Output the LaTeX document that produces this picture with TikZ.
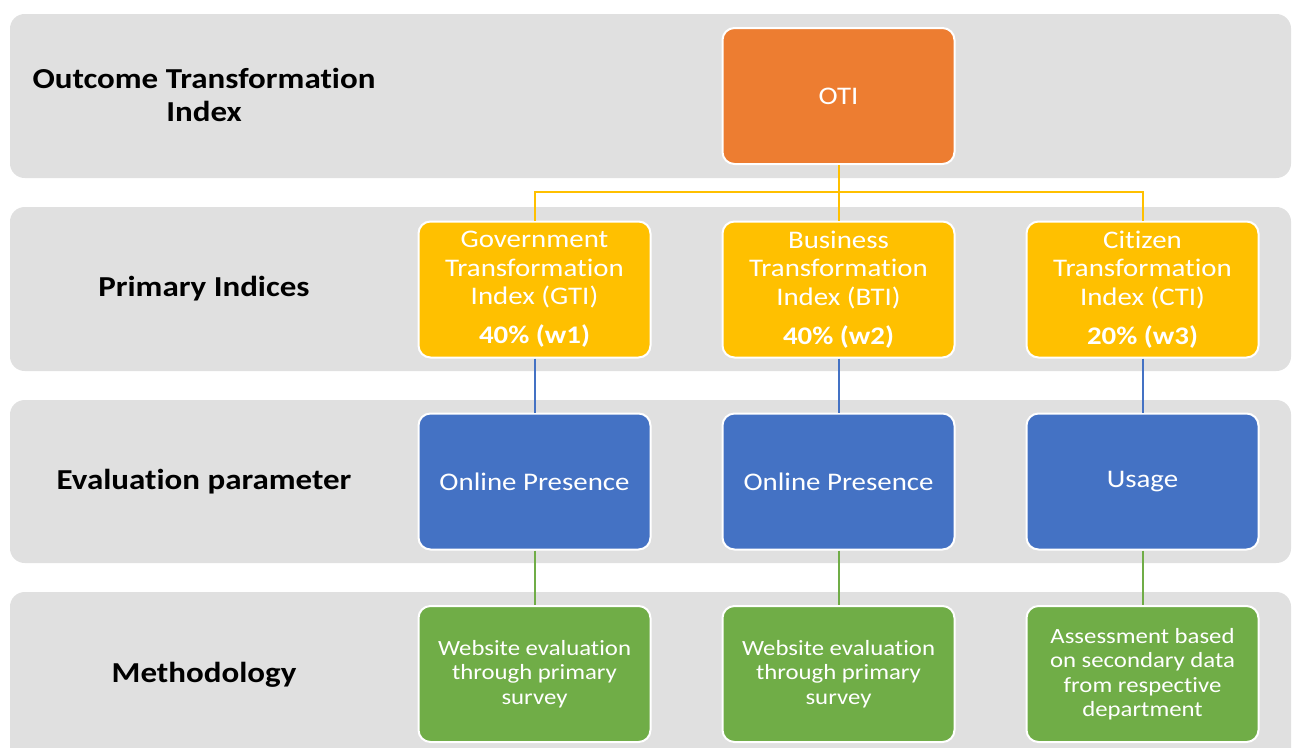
\documentclass[tikz,border=0pt]{standalone}
\usepackage{fontspec}
\setmainfont{Carlito}[FakeStretch=1.14,RawFeature={-liga;-clig;-dlig;-calt;-ccmp}]

\definecolor{bandgray}{RGB}{224,224,224}
\definecolor{otiorange}{RGB}{237,125,49}
\definecolor{primgold}{RGB}{255,192,0}
\definecolor{evalblue}{RGB}{68,114,196}
\definecolor{methgreen}{RGB}{112,173,71}

\tikzset{every picture/.style={line width=0.75pt}}
\tikzset{
  band/.style={fill=bandgray,draw=none,rounded corners=11pt},
  rowlabel/.style={align=center,inner sep=0.75pt,font=\fontsize{21.7}{24.75}\selectfont\bfseries},
  tilebox/.style={draw=white,line width=1.5pt,rounded corners=9pt,text=white,align=center,
    inner sep=0.75pt,minimum width=174pt,minimum height=102pt,font=\fontsize{19}{21.4}\selectfont},
  methbox/.style={tilebox,fill=methgreen,font=\fontsize{16.3}{18.4}\selectfont},
  goldlink/.style={draw=primgold,line width=1.5pt},
  bluelink/.style={draw=evalblue,line width=1.5pt},
  greenlink/.style={draw=methgreen,line width=1.5pt}
}

\begin{document}
\begin{tikzpicture}[x=0.75pt,y=0.75pt,yscale=-1,xscale=1]
\useasboundingbox (0,0) rectangle (1294,747);

%Rows
\path [band] (10,14) rectangle (1291,178);
\path [band] (10,207) rectangle (1291,371);
\path [band] (10,400) rectangle (1291,563);
\path [band] (10,592) rectangle (1291,770);

% Text Node
\node [rowlabel] (lblOTI) at (204,95) {Outcome Transformation\\Index};
% Text Node
\node [rowlabel] (lblPrim) at (204,289) {Primary Indices};
% Text Node
\node [rowlabel] (lblEval) at (204,482) {Evaluation parameter};
% Text Node
\node [rowlabel] (lblMeth) at (204,675) {Methodology};

%Boxes
\node [tilebox,fill=otiorange] (oti) at (838.5,96) {OTI};

\node [tilebox,fill=primgold] (gti) at (534.5,289.5) {Government\\Transformation\\Index (GTI)\\[8pt]\textbf{40\% (w1)}};
\node [tilebox,fill=primgold] (bti) at (838.5,289.5) {Business\\Transformation\\Index (BTI)\\[8pt]\textbf{40\% (w2)}};
\node [tilebox,fill=primgold] (cti) at (1142.5,289.5) {Citizen\\Transformation\\Index (CTI)\\[8pt]\textbf{20\% (w3)}};

\node [tilebox,fill=evalblue] (gonline) at (534.5,481.5) {Online Presence};
\node [tilebox,fill=evalblue] (bonline) at (838.5,481.5) {Online Presence};
\node [tilebox,fill=evalblue] (cusage) at (1142.5,481.5) {\raisebox{-1pt}{Usage}};

\node [methbox] (gsurvey) at (534.5,674) {Website evaluation\\through primary\\survey};
\node [methbox] (bsurvey) at (838.5,674) {Website evaluation\\through primary\\survey};
\node [methbox] (csecond) at (1142.5,674) {Assessment based\\on secondary data\\from respective\\department};

%Connectors
\coordinate (bus) at (838.5,192);
\draw [goldlink] (oti.south) -- (bus);
\draw [goldlink] (bus) -- (bti.north);
\draw [goldlink] (bus) -| (gti.north);
\draw [goldlink] (bus) -| (cti.north);
\draw [bluelink] (gti.south) -- (gonline.north);
\draw [bluelink] (bti.south) -- (bonline.north);
\draw [bluelink] (cti.south) -- (cusage.north);
\draw [greenlink] (gonline.south) -- (gsurvey.north);
\draw [greenlink] (bonline.south) -- (bsurvey.north);
\draw [greenlink] (cusage.south) -- (csecond.north);

\end{tikzpicture}
\end{document}
